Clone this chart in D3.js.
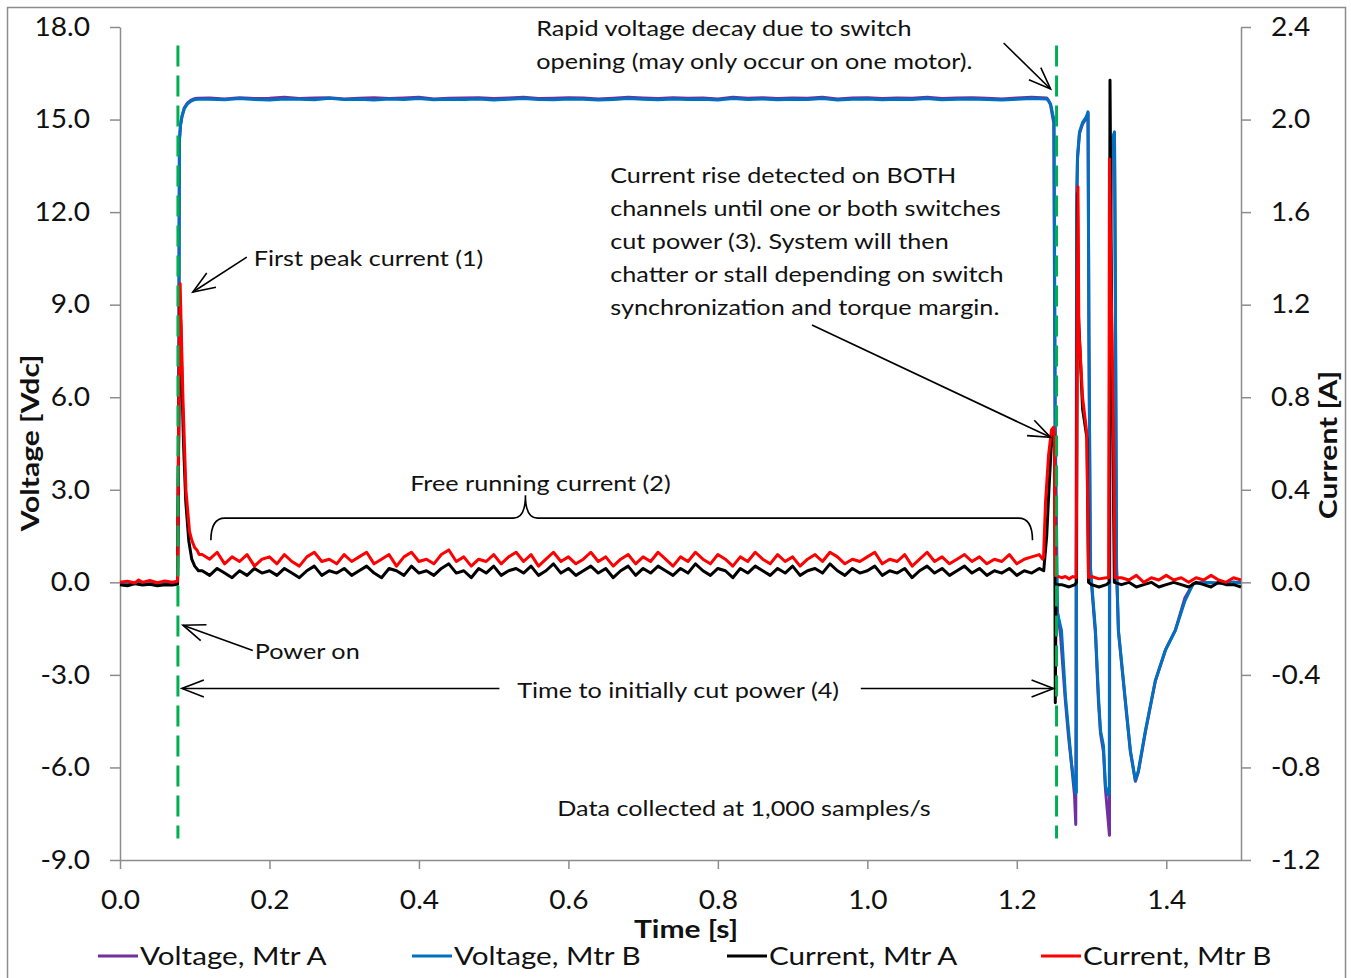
<!DOCTYPE html>
<html>
<head>
    <meta charset="utf-8">
    <title>motor switch test</title>
    <script src="https://d3js.org/d3.v7.min.js"></script>
    <style>
        body, html {
            margin: 0;
            background: #fff;
            overflow: hidden;
        }
        svg text {
            font-family: Lato, "Open Sans", sans-serif;
            fill: #111;
        }
        .axis path, .axis line {
            stroke: #8c8c8c;
            stroke-width: 1.5;
        }
        .axis text {
            font-size: 26px;
        }
        .series {
            fill: none;
            stroke-width: 3;
            stroke-linejoin: round;
        }
        .note {
            font-size: 21px;
        }
    </style>
</head>
<body>
<div id="chart"></div>
<script>
    // tick labels
    const timeTicks = [0.0, 0.2, 0.4, 0.6, 0.8, 1.0, 1.2, 1.4];
    const voltTicks = [-9, -6, -3, 0, 3, 6, 9, 12, 15, 18];
    const currentTicks = [-1.2, -0.8, -0.4, 0.0, 0.4, 0.8, 1.2, 1.6, 2.0, 2.4];

    const seriesNames = ["Voltage, Mtr A", "Voltage, Mtr B", "Current, Mtr A", "Current, Mtr B"];
    const seriesColors = ["#7030a0", "#0070c0", "#000000", "#ff0000"];

    // event markers (power on / cut power), seconds
    const eventTimes = [0.0775, 1.2532];

    // ---- Voltage, Mtr A [Vdc] ----
    const voltAStart = [[0, -0.03], [0.03, -0.05], [0.06, -0.03], [0.077, -0.04],
        [0.0785, 5.2], [0.0795, 14.35], [0.081, 14.85], [0.083, 15.12], [0.086, 15.38],
        [0.09, 15.53], [0.095, 15.63], [0.1, 15.68], [0.105, 15.69]];
    // plateau, sampled every 0.02 s from 0.12 s
    const voltAPlateau = [
        15.70, 15.67, 15.71, 15.68, 15.69, 15.72, 15.68, 15.70, 15.71, 15.67,
        15.69, 15.71, 15.68, 15.70, 15.72, 15.67, 15.69, 15.70, 15.71, 15.68,
        15.70, 15.72, 15.68, 15.69, 15.71, 15.70, 15.67, 15.69, 15.72, 15.70,
        15.68, 15.71, 15.69, 15.70, 15.67, 15.72, 15.69, 15.71, 15.68, 15.70,
        15.69, 15.72, 15.67, 15.70, 15.71, 15.68, 15.70, 15.69, 15.72, 15.68,
        15.70, 15.71, 15.69, 15.67, 15.70, 15.72, 15.70];
    const voltAEnd = [[1.2425, 15.62], [1.2452, 15.48], [1.2478, 15.1], [1.2495, 14.9],
        [1.2512, 5.0], [1.2535, -0.8], [1.2585, -1.7], [1.2645, -3.7], [1.2692, -5.0],
        [1.2732, -5.9], [1.2772, -6.9], [1.2789, -7.85], [1.2800, 12.0], [1.2812, 13.7],
        [1.2839, 14.55], [1.2879, 14.85], [1.2932, 15.05], [1.2953, 15.2], [1.2965, 8.0],
        [1.2985, 0.4], [1.3053, -1.7], [1.3093, -3.9], [1.3120, -4.9], [1.3160, -5.5],
        [1.3186, -6.7], [1.3240, -8.2], [1.3248, 10.0], [1.3267, 14.2], [1.3307, 14.55],
        [1.3318, 10.0], [1.3335, 0.4], [1.336, -1.6], [1.3453, -3.9], [1.352, -5.5],
        [1.3587, -6.45], [1.3627, -6.15], [1.3721, -4.85], [1.3854, -3.2], [1.3988, -2.2],
        [1.4121, -1.55], [1.425, -0.5], [1.436, -0.05], [1.45, 0.0], [1.47, -0.03], [1.5, 0.0]];

    // ---- Voltage, Mtr B [Vdc] ----
    const voltBStart = [[0, -0.05], [0.02, -0.03], [0.04, -0.06], [0.06, -0.04], [0.077, -0.05],
        [0.0785, 5.0], [0.0795, 14.3], [0.081, 14.8], [0.083, 15.1], [0.086, 15.35],
        [0.09, 15.5], [0.095, 15.6], [0.1, 15.65], [0.105, 15.66]];
    const voltBPlateau = [
        15.66, 15.64, 15.68, 15.65, 15.63, 15.67, 15.66, 15.64, 15.69, 15.65,
        15.66, 15.63, 15.67, 15.65, 15.68, 15.64, 15.66, 15.65, 15.67, 15.63,
        15.66, 15.68, 15.65, 15.64, 15.67, 15.66, 15.63, 15.65, 15.68, 15.66,
        15.64, 15.67, 15.65, 15.66, 15.63, 15.68, 15.65, 15.67, 15.64, 15.66,
        15.65, 15.68, 15.63, 15.66, 15.67, 15.64, 15.66, 15.65, 15.68, 15.64,
        15.66, 15.67, 15.65, 15.63, 15.66, 15.68, 15.67];
    const voltBEnd = [[1.2425, 15.6], [1.2452, 15.5], [1.2478, 15.2], [1.2498, 15.0],
        [1.2515, 5.0], [1.2545, -1.0], [1.2598, -1.56], [1.2652, -3.73], [1.2692, -4.8],
        [1.2732, -5.87], [1.2786, -6.84], [1.2797, -6.8], [1.2800, 12.0], [1.2812, 13.8],
        [1.2839, 14.6], [1.2879, 14.9], [1.2932, 15.1], [1.2953, 15.25], [1.2965, 8.0],
        [1.2985, 0.5], [1.3053, -1.56], [1.3093, -3.7], [1.3120, -4.8], [1.3160, -5.3],
        [1.3186, -6.6], [1.3227, -6.9], [1.3238, -6.8], [1.3242, 10.0], [1.3267, 14.3],
        [1.3307, 14.6], [1.3318, 10.0], [1.3335, 0.5], [1.336, -1.56], [1.3453, -3.83],
        [1.352, -5.45], [1.3587, -6.42], [1.3627, -6.1], [1.3721, -4.8], [1.3854, -3.18],
        [1.3988, -2.2], [1.4121, -1.56], [1.425, -0.6], [1.436, -0.05], [1.45, 0.0],
        [1.47, -0.03], [1.49, 0.01], [1.5, -0.02]];

    // ---- Current, Mtr A [A] ----
    const currAStart = [[0, -0.01], [0.01, -0.015], [0.02, -0.005], [0.03, -0.012], [0.04, -0.008],
        [0.05, -0.015], [0.06, -0.01], [0.07, -0.012], [0.077, -0.008],
        [0.0785, 0.6], [0.0800, 1.22], [0.0815, 1.1], [0.083, 0.85], [0.085, 0.6],
        [0.088, 0.35], [0.092, 0.18], [0.096, 0.1], [0.10, 0.07], [0.105, 0.05]];
    // free running, sampled every 0.01 s from 0.11 s
    const currAFree = [
        0.05, 0.03, 0.06, 0.04, 0.02, 0.05, 0.03, 0.06, 0.04, 0.05,
        0.03, 0.06, 0.04, 0.02, 0.05, 0.07, 0.03, 0.05, 0.04, 0.06,
        0.03, 0.05, 0.07, 0.04, 0.02, 0.06, 0.05, 0.03, 0.07, 0.04,
        0.05, 0.03, 0.06, 0.08, 0.04, 0.05, 0.02, 0.06, 0.04, 0.07,
        0.03, 0.05, 0.06, 0.04, 0.07, 0.03, 0.05, 0.08, 0.04, 0.06,
        0.03, 0.05, 0.07, 0.04, 0.06, 0.02, 0.05, 0.07, 0.03, 0.06,
        0.04, 0.07, 0.05, 0.03, 0.06, 0.04, 0.08, 0.05, 0.03, 0.06,
        0.05, 0.02, 0.06, 0.04, 0.07, 0.05, 0.03, 0.06, 0.04, 0.07,
        0.03, 0.05, 0.06, 0.04, 0.08, 0.05, 0.03, 0.06, 0.04, 0.05,
        0.07, 0.03, 0.05, 0.04, 0.06, 0.02, 0.05, 0.07, 0.04, 0.06,
        0.03, 0.05, 0.07, 0.04, 0.06, 0.03, 0.05, 0.04, 0.06, 0.03,
        0.05, 0.04, 0.06];
    const currAEnd = [[1.236, 0.05], [1.240, 0.2], [1.243, 0.4], [1.246, 0.58], [1.2485, 0.65],
        [1.2505, 0.63], [1.2515, -0.52], [1.2525, -0.01], [1.26, -0.01], [1.27, -0.02],
        [1.278, -0.01], [1.2799, 0.0], [1.2812, 1.68], [1.2826, 1.15], [1.2880, 0.75],
        [1.2940, 0.62], [1.2960, 0.0], [1.30, -0.01], [1.31, -0.02], [1.32, -0.01],
        [1.3235, 0.0], [1.3247, 2.17], [1.3273, 0.97], [1.3290, 0.5], [1.3305, 0.0]];
    // tail, sampled every 0.01 s from 1.34 s
    const currATail = [-0.01, 0.00, -0.02, -0.01, 0.00, -0.02, -0.01, 0.00, -0.01,
        -0.02, 0.00, -0.01, -0.02, 0.00, -0.01, -0.01, -0.02];

    // ---- Current, Mtr B [A] ----
    const currBStart = [[0, 0.0], [0.01, 0.005], [0.02, -0.003], [0.025, 0.01], [0.03, 0.0],
        [0.04, 0.008], [0.05, -0.002], [0.06, 0.006], [0.07, 0.0], [0.077, 0.005],
        [0.0785, 0.7], [0.0805, 1.29], [0.0815, 1.15], [0.0842, 0.8], [0.0882, 0.4],
        [0.0930, 0.22], [0.0962, 0.18], [0.1, 0.15], [0.1029, 0.14], [0.106, 0.12]];
    const currBFree = [
        0.12, 0.10, 0.13, 0.08, 0.11, 0.09, 0.12, 0.07, 0.10, 0.11,
        0.08, 0.12, 0.09, 0.07, 0.11, 0.13, 0.09, 0.10, 0.08, 0.12,
        0.09, 0.11, 0.13, 0.08, 0.10, 0.12, 0.07, 0.11, 0.13, 0.09,
        0.10, 0.08, 0.12, 0.14, 0.09, 0.11, 0.07, 0.10, 0.09, 0.12,
        0.08, 0.11, 0.13, 0.09, 0.12, 0.07, 0.10, 0.13, 0.09, 0.11,
        0.08, 0.10, 0.13, 0.09, 0.11, 0.07, 0.10, 0.12, 0.08, 0.11,
        0.09, 0.13, 0.10, 0.07, 0.11, 0.09, 0.13, 0.10, 0.08, 0.12,
        0.10, 0.07, 0.11, 0.09, 0.13, 0.10, 0.08, 0.12, 0.09, 0.11,
        0.07, 0.10, 0.12, 0.09, 0.13, 0.11, 0.08, 0.10, 0.09, 0.11,
        0.13, 0.08, 0.10, 0.09, 0.12, 0.07, 0.10, 0.13, 0.09, 0.11,
        0.08, 0.10, 0.12, 0.09, 0.11, 0.08, 0.10, 0.09, 0.12, 0.08,
        0.10, 0.11, 0.12];
    const currBEnd = [[1.2345, 0.10], [1.2358, 0.11], [1.2385, 0.35], [1.2425, 0.55],
        [1.2465, 0.66], [1.2492, 0.67], [1.2505, 0.62], [1.2515, 0.03], [1.26, 0.02],
        [1.265, 0.025], [1.27, 0.015], [1.275, 0.025], [1.2795, 0.02], [1.2805, 0.8],
        [1.2818, 1.71], [1.2830, 1.1], [1.2880, 0.8], [1.2935, 0.65], [1.2950, 0.3],
        [1.2960, 0.02], [1.30, 0.025], [1.31, 0.015], [1.32, 0.02], [1.3230, 0.02],
        [1.3240, 1.83], [1.3260, 1.3], [1.3280, 0.95], [1.3300, 0.5], [1.3315, 0.02]];
    const currBTail = [0.02, 0.01, 0.03, 0.00, 0.02, 0.01, 0.03, 0.01, 0.02,
        0.00, 0.02, 0.01, 0.03, 0.01, 0.00, 0.02, 0.01];

    // turn an evenly sampled stretch into [t, v] pairs
    function sampled(t0, dt, values) {
        return values.map((v, i) => [t0 + i * dt, v]);
    }

    const voltA = voltAStart.concat(sampled(0.12, 0.02, voltAPlateau), voltAEnd);
    const voltB = voltBStart.concat(sampled(0.12, 0.02, voltBPlateau), voltBEnd);
    const currA = currAStart.concat(sampled(0.11, 0.01, currAFree), currAEnd, sampled(1.34, 0.01, currATail));
    const currB = currBStart.concat(sampled(0.11, 0.01, currBFree), currBEnd, sampled(1.34, 0.01, currBTail));

    const width = 1351, height = 978;

    // the original text is a little wider than Lato, so stretch it sideways
    function widen(sel, sx, x0) {
        sel.each(function () {
            const t = d3.select(this);
            const ox = x0 !== undefined ? x0 : (+t.attr("x") || 0);
            const pre = t.attr("transform") || "";
            t.attr("transform", `${pre} translate(${ox},0) scale(${sx},1) translate(${-ox},0)`);
        });
    }

    const svg = d3.select("#chart")
                  .append("svg")
                  .attr("width", width)
                  .attr("height", height);

    // outer chart frame
    svg.append("rect")
       .attr("x", 7.5).attr("y", 7.5)
       .attr("width", 1338).attr("height", 1000)
       .attr("fill", "none")
       .attr("stroke", "#8c8c8c")
       .attr("stroke-width", 1.5);

    const x = d3.scaleLinear().domain([0, 1.5]).range([120, 1241]);
    const yV = d3.scaleLinear().domain([-9, 18]).range([860, 27]);
    const yI = d3.scaleLinear().domain([-1.2, 2.4]).range([860, 27]);
    const fmt = d => d.toFixed(1);

    // axes
    const gx = svg.append("g")
       .attr("class", "axis")
       .attr("transform", "translate(0,860)")
       .call(d3.axisBottom(x).tickValues(timeTicks).tickSize(9).tickSizeOuter(0)
             .tickPadding(22).tickFormat(fmt));
    const gl = svg.append("g")
       .attr("class", "axis")
       .attr("transform", "translate(120,0)")
       .call(d3.axisLeft(yV).tickValues(voltTicks).tickSize(10).tickSizeOuter(0)
             .tickPadding(20).tickFormat(fmt));
    const gr = svg.append("g")
       .attr("class", "axis")
       .attr("transform", "translate(1241,0)")
       .call(d3.axisRight(yI).tickValues(currentTicks).tickSize(10).tickSizeOuter(0)
             .tickPadding(20).tickFormat(fmt));
    [gx, gl, gr].forEach(g => widen(g.selectAll("text"), 1.08));

    // axis titles
    const titles = [
        svg.append("text")
           .attr("transform", "translate(39,443) rotate(-90)")
           .text("Voltage [Vdc]"),
        svg.append("text")
           .attr("transform", "translate(1337,445) rotate(-90)")
           .text("Current [A]"),
        svg.append("text")
           .attr("x", 686).attr("y", 938)
           .text("Time [s]")
    ];
    titles.forEach(t => {
        t.attr("text-anchor", "middle")
         .style("font-size", "25px").style("font-weight", "bold");
        widen(t, 1.2);
    });

    // series: purple under blue, red on top of black
    const voltLine = d3.line().x(d => x(d[0])).y(d => yV(d[1]));
    const currLine = d3.line().x(d => x(d[0])).y(d => yI(d[1]));

    [[voltA, voltLine], [voltB, voltLine], [currA, currLine], [currB, currLine]]
        .forEach(([data, line], i) => {
            svg.append("path")
               .datum(data)
               .attr("class", "series")
               .attr("stroke", seriesColors[i])
               .attr("d", line);
        });

    // green dashed event lines
    eventTimes.forEach(t => {
        svg.append("line")
           .attr("x1", x(t)).attr("x2", x(t))
           .attr("y1", yV(17.4)).attr("y2", yV(-8.3))
           .attr("stroke", "#00b050")
           .attr("stroke-width", 3)
           .attr("stroke-dasharray", "21,9");
    });

    // open chevron arrow heads
    const defs = svg.append("defs");
    defs.append("marker")
        .attr("id", "chev")
        .attr("viewBox", "-2 -2 26 21")
        .attr("markerUnits", "userSpaceOnUse")
        .attr("markerWidth", 26).attr("markerHeight", 21)
        .attr("refX", 22).attr("refY", 8.5)
        .attr("orient", "auto-start-reverse")
        .append("path")
        .attr("d", "M0,0 L22,8.5 L0,17")
        .attr("fill", "none")
        .attr("stroke", "#000")
        .attr("stroke-width", 1.6);

    function arrow(t1, v1, t2, v2) {
        svg.append("line")
           .attr("x1", x(t1)).attr("y1", yV(v1))
           .attr("x2", x(t2)).attr("y2", yV(v2))
           .attr("stroke", "#000").attr("stroke-width", 1.6)
           .attr("marker-end", "url(#chev)");
    }

    function note(t, v, lines, anchor) {
        const txt = svg.append("text")
           .attr("class", "note")
           .attr("text-anchor", anchor || "start");
        lines.forEach((s, i) => {
            txt.append("tspan")
               .attr("x", x(t))
               .attr("y", yV(v) + i * 33)
               .text(s);
        });
        widen(txt, 1.2, x(t));
    }

    // annotations (positions in data units: seconds, volts)
    note(0.557, 17.71, ["Rapid voltage decay due to switch",
                        "opening (may only occur on one motor)."]);
    arrow(1.1824, 17.48, 1.2452, 15.99);

    note(0.656, 12.94, ["Current rise detected on BOTH",
                        "channels until one or both switches",
                        "cut power (3). System will then",
                        "chatter or stall depending on switch",
                        "synchronization and torque margin."]);
    arrow(0.9259, 8.34, 1.2452, 4.70);

    note(0.179, 10.25, ["First peak current (1)"]);
    arrow(0.1697, 10.54, 0.0975, 9.41);

    note(0.5625, 2.95, ["Free running current (2)"], "middle");
    // curly brace over the free running section
    const bx0 = x(0.1216), bx1 = x(1.221), bxm = x(0.5425);
    const by = yV(2.08), byTip = yV(2.82), byEnd = yV(1.36);
    svg.append("path")
       .attr("d", `M${bx0},${byEnd} Q${bx0},${by} ${bx0 + 14},${by} L${bxm - 12},${by}
                   Q${bxm},${by} ${bxm},${byTip} Q${bxm},${by} ${bxm + 12},${by}
                   L${bx1 - 14},${by} Q${bx1},${by} ${bx1},${byEnd}`)
       .attr("fill", "none")
       .attr("stroke", "#000")
       .attr("stroke-width", 1.6);

    note(0.1804, -2.50, ["Power on"]);
    arrow(0.1777, -2.21, 0.0842, -1.39);

    note(0.7468, -3.76, ["Time to initially cut power (4)"], "middle");
    arrow(0.5077, -3.44, 0.0828, -3.44);
    arrow(0.9913, -3.44, 1.2492, -3.44);

    note(0.835, -7.59, ["Data collected at 1,000 samples/s"], "middle");

    // legend along the bottom
    const legendX = [98, 412, 727, 1041];
    seriesNames.forEach((name, i) => {
        svg.append("line")
           .attr("x1", legendX[i]).attr("x2", legendX[i] + 40)
           .attr("y1", 956).attr("y2", 956)
           .attr("stroke", seriesColors[i])
           .attr("stroke-width", 3);
        const lt = svg.append("text")
           .attr("x", legendX[i] + 42).attr("y", 965)
           .style("font-size", "25px")
           .text(name);
        widen(lt, 1.185);
    });
</script>
</body>
</html>
